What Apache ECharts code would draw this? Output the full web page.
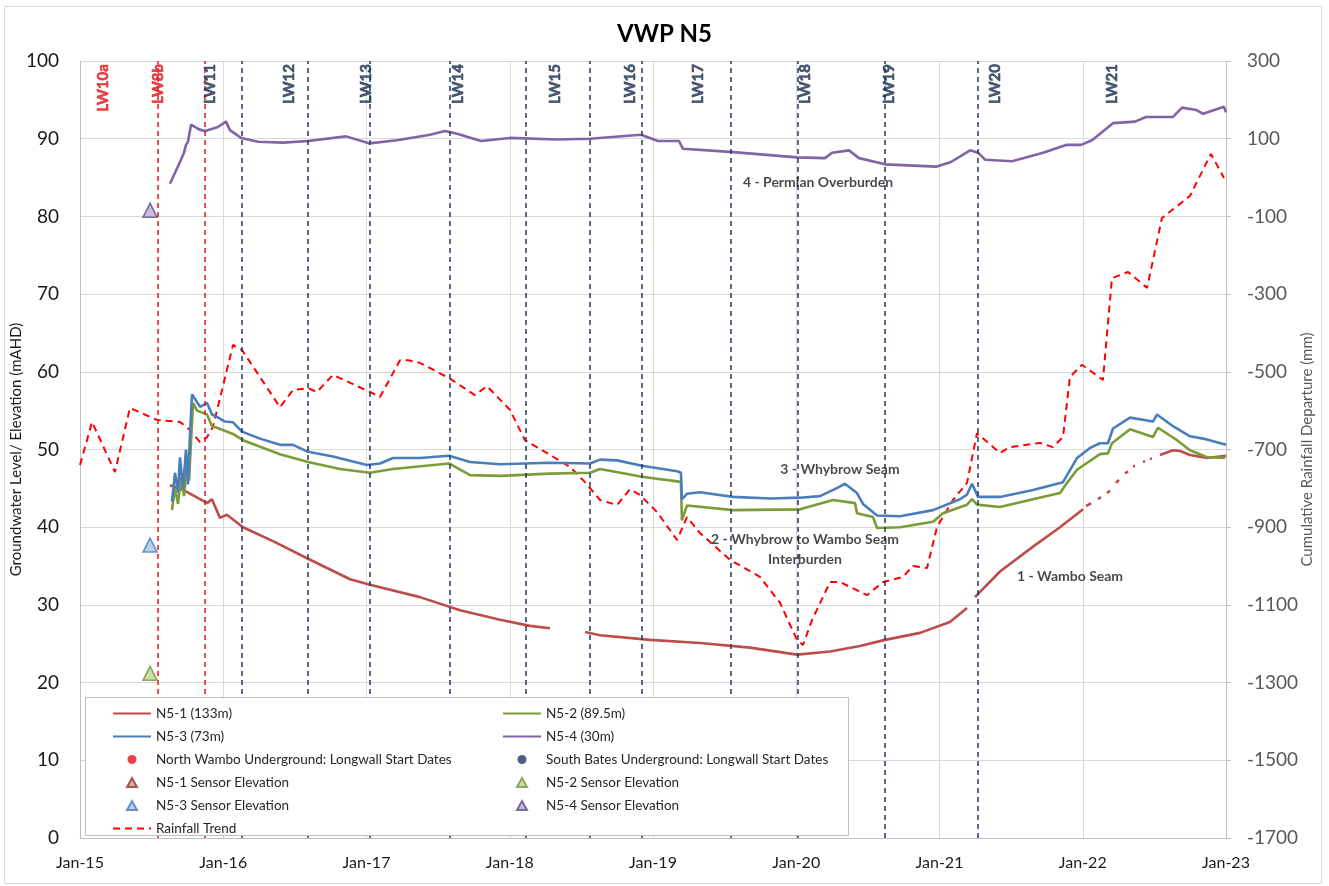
<!DOCTYPE html>
<html>
<head>
<meta charset="utf-8">
<title>VWP N5</title>
<script src="https://cdn.jsdelivr.net/npm/echarts@6/dist/echarts.min.js"></script>
<style>
  html, body { margin: 0; padding: 0; background: #ffffff; }
  #chart { width: 1329px; height: 886px; }
</style>
</head>
<body>
<div id="chart"></div>
<script>
// Time is stored as decimal years (2015.5 = mid 2015).
const xTickLabels = ['Jan-15', 'Jan-16', 'Jan-17', 'Jan-18', 'Jan-19', 'Jan-20', 'Jan-21', 'Jan-22', 'Jan-23'];
const rainTicks = [-1700, -1500, -1300, -1100, -900, -700, -500, -300, -100, 100, 300];

// N5-1 (133m) groundwater level, mAHD (null = no record)
const n51Years = [2015.628, 2015.719, 2015.838, 2015.887, 2015.921, 2015.977, 2016.026, 2016.138, 2016.347, 2016.585,
  2016.885, 2017.024, 2017.373, 2017.653, 2017.932, 2018.141, 2018.281, 2018.40, 2018.525, 2018.630, 2018.979,
  2019.328, 2019.677, 2020.005, 2020.236, 2020.445, 2020.620, 2020.864, 2021.073, 2021.192, 2021.220, 2021.248,
  2021.422, 2021.653, 2021.841, 2022.002, 2022.012, 2022.023, 2022.058, 2022.080, 2022.107, 2022.127, 2022.150,
  2022.169, 2022.190, 2022.210, 2022.232, 2022.253, 2022.275, 2022.295, 2022.316, 2022.335, 2022.351, 2022.365,
  2022.395, 2022.421, 2022.435, 2022.452, 2022.469, 2022.483, 2022.510, 2022.539, 2022.630, 2022.679, 2022.749,
  2022.867, 2023.000];
const n51Levels = [45.4, 44.8, 43.6, 43.1, 43.6, 41.2, 41.6, 40.0, 38.2, 36.0,
  33.3, 32.6, 31.0, 29.3, 28.1, 27.3, 27.0, null, 26.5, 26.1, 25.5,
  25.1, 24.5, 23.6, 24.0, 24.7, 25.5, 26.4, 27.8, 29.6, null, 31.0,
  34.3, 37.5, 40.0, 42.3, null, 42.7, 43.1, null, 43.6, 43.9, null,
  44.4, 44.7, null, 45.7, 46.1, null, 46.9, 47.2, null, 47.8, 47.9,
  null, 48.4, 48.5, null, 48.8, 48.8, null, 49.3, 49.9, 49.8, 49.3,
  48.9, 49.2];

// N5-2 (89.5m)
const n52Years = [2015.642, 2015.663, 2015.684, 2015.705, 2015.726, 2015.747, 2015.761, 2015.789, 2015.817, 2015.887,
  2015.921, 2015.956, 2016.068, 2016.138, 2016.396, 2016.592, 2016.815, 2017.024, 2017.185, 2017.576, 2017.723,
  2017.932, 2018.281, 2018.560, 2018.630, 2018.923, 2019.168, 2019.195, 2019.202, 2019.237, 2019.559, 2020.026,
  2020.257, 2020.410, 2020.424, 2020.536, 2020.564, 2020.724, 2020.955, 2021.024, 2021.192, 2021.227, 2021.262,
  2021.422, 2021.653, 2021.841, 2021.890, 2021.960, 2022.120, 2022.176, 2022.204, 2022.330, 2022.490, 2022.525,
  2022.658, 2022.749, 2022.867, 2022.993];
const n52Levels = [42.2, 45.0, 43.0, 46.5, 44.0, 48.0, 46.0, 56.0, 55.0, 54.5,
  53.0, 52.8, 52.0, 51.2, 49.4, 48.4, 47.5, 47.0, 47.5, 48.2, 46.7,
  46.6, 46.9, 47.0, 47.5, 46.5, 45.9, 45.8, 40.9, 42.8, 42.2, 42.3,
  43.5, 43.1, 41.8, 41.3, 39.9, 40.0, 40.7, 41.8, 42.9, 43.6, 42.9,
  42.6, 43.6, 44.4, 45.7, 47.4, 49.4, 49.5, 50.8, 52.6, 51.6, 52.8,
  51.2, 49.9, 49.0, 48.9];

// N5-3 (73m)
const n53Years = [2015.642, 2015.663, 2015.684, 2015.698, 2015.719, 2015.740, 2015.754, 2015.768, 2015.782, 2015.803,
  2015.838, 2015.887, 2015.921, 2015.956, 2016.012, 2016.068, 2016.131, 2016.257, 2016.396, 2016.487, 2016.592,
  2016.766, 2017.003, 2017.094, 2017.185, 2017.373, 2017.576, 2017.723, 2017.932, 2018.281, 2018.560, 2018.630,
  2018.749, 2018.923, 2019.168, 2019.195, 2019.202, 2019.237, 2019.328, 2019.559, 2019.817, 2020.026, 2020.166,
  2020.291, 2020.340, 2020.424, 2020.466, 2020.564, 2020.724, 2020.955, 2021.143, 2021.192, 2021.227, 2021.269,
  2021.422, 2021.653, 2021.862, 2021.960, 2022.051, 2022.120, 2022.176, 2022.211, 2022.330, 2022.490, 2022.518,
  2022.630, 2022.749, 2022.867, 2023.000];
const n53Levels = [43.3, 47.0, 44.5, 49.0, 45.0, 50.0, 45.5, 52.0, 57.1, 56.5,
  55.5, 56.0, 54.5, 54.2, 53.6, 53.5, 52.3, 51.4, 50.6, 50.6, 49.7,
  49.1, 48.0, 48.2, 48.9, 48.9, 49.2, 48.4, 48.1, 48.3, 48.2, 48.7,
  48.6, 47.9, 47.2, 47.0, 43.6, 44.3, 44.5, 43.9, 43.7, 43.8, 44.0,
  45.1, 45.6, 44.4, 43.0, 41.5, 41.4, 42.2, 43.6, 44.2, 45.6, 43.9,
  43.9, 44.8, 45.8, 48.9, 50.2, 50.8, 50.8, 52.7, 54.1, 53.6, 54.5,
  53.0, 51.7, 51.3, 50.6];

// N5-4 (30m)
const n54Years = [2015.628, 2015.698, 2015.726, 2015.740, 2015.754, 2015.775, 2015.831, 2015.873, 2015.963, 2016.019,
  2016.047, 2016.124, 2016.243, 2016.417, 2016.592, 2016.857, 2017.017, 2017.213, 2017.443, 2017.548, 2017.639,
  2017.799, 2018.002, 2018.330, 2018.560, 2018.916, 2019.035, 2019.182, 2019.209, 2019.538, 2020.005, 2020.201,
  2020.250, 2020.368, 2020.438, 2020.620, 2020.976, 2021.080, 2021.213, 2021.269, 2021.318, 2021.506, 2021.723,
  2021.883, 2021.988, 2022.065, 2022.211, 2022.365, 2022.441, 2022.630, 2022.693, 2022.791, 2022.840, 2022.986,
  2023.000];
const n54Levels = [84.2, 87.0, 88.2, 89.2, 89.6, 91.8, 91.2, 91.0, 91.5, 92.2,
  91.1, 90.1, 89.6, 89.5, 89.7, 90.3, 89.4, 89.8, 90.5, 91.0, 90.6,
  89.7, 90.1, 89.9, 90.0, 90.5, 89.7, 89.7, 88.7, 88.3, 87.6, 87.5,
  88.2, 88.5, 87.5, 86.7, 86.4, 87.0, 88.5, 88.2, 87.3, 87.1, 88.2,
  89.2, 89.2, 89.8, 92.0, 92.2, 92.8, 92.8, 94.0, 93.7, 93.2, 94.1,
  93.4];

// Cumulative rainfall departure, mm (right axis)
const rainYears = [2015.000, 2015.084, 2015.244, 2015.349, 2015.538, 2015.698, 2015.768, 2015.838, 2015.887, 2015.928,
  2016.068, 2016.131, 2016.396, 2016.487, 2016.592, 2016.654, 2016.766, 2017.024, 2017.094, 2017.234, 2017.290,
  2017.373, 2017.576, 2017.757, 2017.841, 2018.002, 2018.106, 2018.246, 2018.421, 2018.525, 2018.630, 2018.749,
  2018.839, 2018.909, 2019.028, 2019.168, 2019.237, 2019.328, 2019.538, 2019.747, 2019.887, 2020.005, 2020.047,
  2020.110, 2020.236, 2020.305, 2020.494, 2020.606, 2020.745, 2020.815, 2020.913, 2020.983, 2021.094, 2021.192,
  2021.262, 2021.422, 2021.492, 2021.702, 2021.792, 2021.862, 2021.911, 2021.995, 2022.141, 2022.204, 2022.316,
  2022.449, 2022.553, 2022.644, 2022.749, 2022.895, 2022.986];
const rainDeparture = [-740, -629, -758, -593, -624, -629, -650, -681, -668, -642,
  -431, -444, -591, -547, -542, -552, -508, -552, -565, -470, -470,
  -477, -516, -560, -537, -598, -676, -706, -745, -784, -830, -843,
  -802, -817, -861, -933, -874, -915, -984, -1028, -1095, -1190, -1203,
  -1139, -1041, -1041, -1075, -1041, -1028, -1000, -1005, -899, -830, -786,
  -658, -709, -694, -683, -694, -668, -513, -482, -521, -259, -243,
  -284, -104, -78, -47, 61, -1];

// Longwall start dates
const northWamboStarts = [2015.538, 2015.873];
const southBatesStarts = [2016.131, 2016.585, 2017.017, 2017.576, 2018.106, 2018.560, 2018.923,
  2019.538, 2020.005, 2020.620, 2021.269];
const longwallNames = ['LW10a', 'LW8b', 'LW11', 'LW12', 'LW13', 'LW14', 'LW15', 'LW16', 'LW17', 'LW18', 'LW19', 'LW20', 'LW21'];
const longwallLabelYears = [2015.161, 2015.545, 2015.907, 2016.459, 2016.997, 2017.639, 2018.316, 2018.839,
  2019.314, 2020.061, 2020.647, 2021.387, 2022.204];
const longwallMine = ['N', 'N', 'S', 'S', 'S', 'S', 'S', 'S', 'S', 'S', 'S', 'S', 'S'];

// Sensor elevations (mAHD)
const sensorYear = 2015.489;
const sensorElevations = { n51: -22.2, n52: 21.2, n53: 37.7, n54: 80.8 };

// Unit annotations
const unitNames = ['4 - Permian Overburden', '3 - Whybrow Seam', '2 - Whybrow to Wambo Seam\nInterburden', '1 - Wambo Seam'];
const unitYears = [2020.152, 2020.305, 2020.061, 2021.911];
const unitLevels = [84.4, 47.4, 37.1, 33.6];

const FONT = 'Lato, "Open Sans", sans-serif';
const C = {
  n51: '#bd4d4a', n52: '#7b9c38', n53: '#4a7ebb', n54: '#7f64a6',
  rain: '#ff0000', north: '#e3161b', south: '#1f3a5f'
};

const zip = (xs, ys) => xs.map((x, i) => [x, ys[i]]);

function levelSeries(name, xs, ys, color) {
  return {
    name, type: 'line', data: zip(xs, ys), yAxisIndex: 0,
    symbol: 'none', showSymbol: false, connectNulls: false, z: 4,
    lineStyle: { color, width: 2.6 }, itemStyle: { color },
    emphasis: { disabled: true }
  };
}

function sensorSeries(name, value, fill, stroke) {
  return {
    name, type: 'scatter', data: [[sensorYear, value]], symbol: 'triangle', symbolSize: 14, z: 6,
    symbolKeepAspect: true,
    itemStyle: { color: fill, borderColor: stroke, borderWidth: 1.6 },
    clip: true, emphasis: { disabled: true }
  };
}

function startLines(name, years, color) {
  return {
    name, type: 'scatter', data: [], z: 2, symbolSize: 8,
    itemStyle: { color },
    markLine: {
      silent: true, symbol: ['none', 'none'], animation: false,
      label: { show: false },
      lineStyle: { color, type: [5, 4], width: 1.5 },
      data: years.map(v => ({ xAxis: v }))
    }
  };
}

// Line entries keep only their stroke in the legend; markers keep their symbol.
const lineKey = name => ({ name, itemStyle: { opacity: 0 } });
const dotKey = name => ({ name, icon: 'circle' });
const triKey = name => ({ name, icon: 'path://M5,0 L10,9 L0,9 Z M-14,4.5 L-14,4.5 M24,4.5 L24,4.5' });

const chart = echarts.init(document.getElementById('chart'), null, { renderer: 'canvas' });

const legendText = { fontFamily: FONT, fontSize: 13.5, color: '#262626', lineHeight: 15 };

const lwLabelStyle = mine => {
  const c = mine === 'N' ? '#e3161b' : '#1b3150';
  return { color: c, fontWeight: 'bold', fontFamily: 'Lato', textBorderColor: c, textBorderWidth: 0.6 };
};

const option = {
  animation: false,
  backgroundColor: '#ffffff',
  textStyle: { fontFamily: FONT },
  title: {
    text: 'VWP N5', left: 'center', top: 17,
    textStyle: { fontFamily: FONT, fontSize: 24, fontWeight: 'bold', color: '#000000' }
  },
  graphic: [
    { type: 'rect', z: 0, silent: true, shape: { x: 4.5, y: 6.5, width: 1317, height: 877 },
      style: { fill: 'none', stroke: '#d9d9d9', lineWidth: 1 } },
    { type: 'rect', z: 8, silent: true, shape: { x: 85.5, y: 697.5, width: 763, height: 138 },
      style: { fill: '#ffffff', stroke: '#bfbfbf', lineWidth: 1 } }
  ],
  grid: { left: 80, top: 61, right: 103, bottom: 48, containLabel: false, outerBoundsMode: 'none' },
  legend: [
    {
      z: 10, orient: 'vertical', left: 107, top: 701, itemWidth: 38, itemHeight: 9, itemGap: 8,
      selectedMode: false, textStyle: legendText,
      data: [lineKey('N5-1 (133m)'), lineKey('N5-3 (73m)'), dotKey('North Wambo Underground: Longwall Start Dates'),
        triKey('N5-1 Sensor Elevation'), triKey('N5-3 Sensor Elevation'), lineKey('Rainfall Trend')]
    },
    {
      z: 10, orient: 'vertical', left: 497, top: 701, itemWidth: 38, itemHeight: 9, itemGap: 8,
      selectedMode: false, textStyle: legendText,
      data: [lineKey('N5-2 (89.5m)'), lineKey('N5-4 (30m)'), dotKey('South Bates Underground: Longwall Start Dates'),
        triKey('N5-2 Sensor Elevation'), triKey('N5-4 Sensor Elevation')]
    }
  ],
  xAxis: {
    type: 'value', min: 2015, max: 2023, interval: 1,
    axisLine: { show: true, lineStyle: { color: '#bfbfbf', width: 1 } },
    axisTick: { show: false },
    axisLabel: {
      margin: 17, fontFamily: FONT, fontSize: 16, color: '#1a1a1a',
      formatter: v => xTickLabels[Math.round(v - 2015)] || ''
    },
    splitLine: { show: true, lineStyle: { color: '#d9d9d9', width: 1 } }
  },
  yAxis: [
    {
      type: 'value', min: 0, max: 100, interval: 10, position: 'left',
      name: 'Groundwater Level/ Elevation (mAHD)', nameLocation: 'middle', nameGap: 56,
      nameMoveOverlap: false,
      nameTextStyle: { fontFamily: FONT, fontSize: 15, color: '#1a1a1a' },
      axisLine: { show: true, lineStyle: { color: '#bfbfbf', width: 1 } },
      axisTick: { show: false },
      axisLabel: { margin: 21, fontFamily: FONT, fontSize: 19, color: '#1a1a1a' },
      splitLine: { show: true, lineStyle: { color: '#d9d9d9', width: 1 } }
    },
    {
      type: 'value', min: -1700, max: 300, position: 'right',
      name: 'Cumulative Rainfall Departure (mm)', nameLocation: 'middle', nameGap: 74,
      nameMoveOverlap: false,
      nameTextStyle: { fontFamily: FONT, fontSize: 15, color: '#595959' },
      axisLine: { show: true, lineStyle: { color: '#bfbfbf', width: 1 } },
      axisTick: { show: true, inside: false, length: 5, lineStyle: { color: '#bfbfbf' }, customValues: rainTicks },
      axisLabel: {
        margin: 21, fontFamily: FONT, fontSize: 19, color: '#595959', customValues: rainTicks,
        formatter: v => String(v)
      },
      splitLine: { show: false }
    }
  ],
  series: [
    startLines('North Wambo Underground: Longwall Start Dates', northWamboStarts, C.north),
    startLines('South Bates Underground: Longwall Start Dates', southBatesStarts, C.south),
    {
      name: 'Longwall labels', type: 'scatter', z: 7, symbolSize: 0, silent: true,
      data: longwallNames.map((n, i) => ({
        name: n, value: [longwallLabelYears[i], 99.6],
        label: lwLabelStyle(longwallMine[i])
      })),
      label: {
        show: true, position: 'inside', rotate: 90, align: 'right', verticalAlign: 'middle',
        fontFamily: 'Lato', fontSize: 15, fontWeight: 'bold', formatter: p => p.name
      }
    },
    {
      name: 'Rainfall Trend', type: 'line', yAxisIndex: 1, z: 3,
      data: zip(rainYears, rainDeparture), symbol: 'none', showSymbol: false,
      lineStyle: { color: C.rain, width: 2, type: [7, 5] }, itemStyle: { color: C.rain },
      emphasis: { disabled: true }
    },
    levelSeries('N5-1 (133m)', n51Years, n51Levels, C.n51),
    levelSeries('N5-2 (89.5m)', n52Years, n52Levels, C.n52),
    levelSeries('N5-3 (73m)', n53Years, n53Levels, C.n53),
    levelSeries('N5-4 (30m)', n54Years, n54Levels, C.n54),
    sensorSeries('N5-1 Sensor Elevation', sensorElevations.n51, '#d99694', '#953735'),
    sensorSeries('N5-2 Sensor Elevation', sensorElevations.n52, '#c3d69b', '#77933c'),
    sensorSeries('N5-3 Sensor Elevation', sensorElevations.n53, '#a9c4e6', '#4a7ebb'),
    sensorSeries('N5-4 Sensor Elevation', sensorElevations.n54, '#b9abd0', '#5f4b8b'),
    {
      name: 'Units', type: 'scatter', z: 7, symbolSize: 0, silent: true,
      data: unitNames.map((n, i) => ({ name: n, value: [unitYears[i], unitLevels[i]] })),
      label: {
        show: true, position: 'inside', align: 'center', verticalAlign: 'middle',
        fontFamily: FONT, fontSize: 14, fontWeight: 'bold', color: '#1a1a1a', lineHeight: 20,
        formatter: p => p.name
      }
    }
  ]
};

chart.setOption(option);
</script>
</body>
</html>
